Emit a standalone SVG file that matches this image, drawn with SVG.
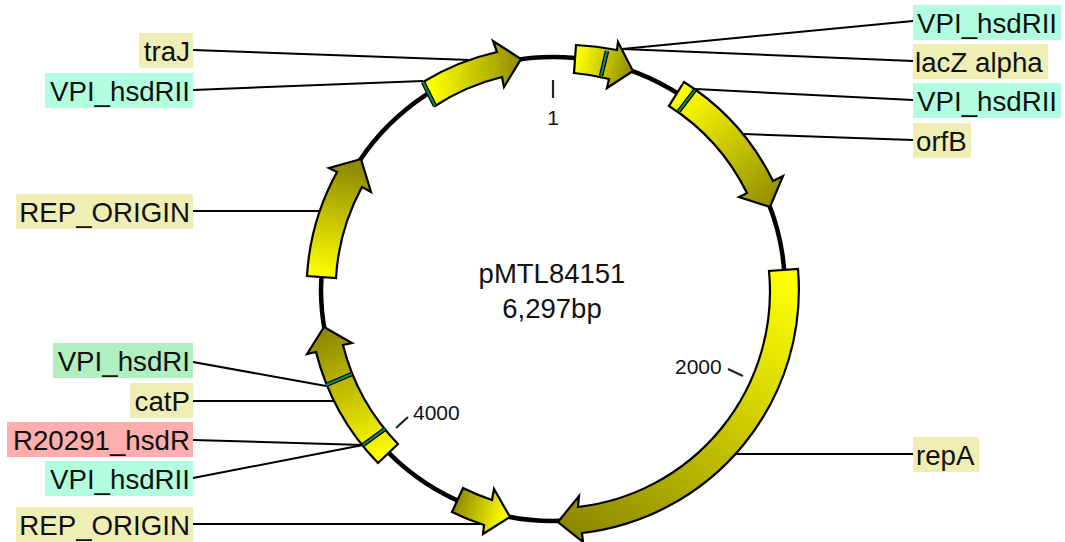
<svg xmlns="http://www.w3.org/2000/svg" width="1065" height="542" viewBox="0 0 1065 542">
<style>
text{font-family:"Liberation Sans",Arial,sans-serif;fill:#111}
.lb{font-size:27.7px}
.m{font-size:27.5px}
.s{font-size:21px}
.l{text-anchor:end}
.c{text-anchor:middle}
.k{fill:#efefb5}
.t{fill:#b2ffdf}
.g{fill:#b0f0c0}
.r{fill:#ffaeae}
.cn line{stroke:#000;stroke-width:2;fill:none}
.tick{stroke:#222;stroke-width:2.2;fill:none}
.gene{stroke:#000;stroke-width:2.2;stroke-linejoin:miter}
.so{stroke:#000;stroke-width:4.5;fill:none}
.si{stroke:#0f8a5c;stroke-width:2;fill:none}
</style>
<defs>
<linearGradient id="g1" gradientUnits="userSpaceOnUse" x1="430" y1="75" x2="525" y2="65"><stop offset="0" stop-color="#ffff00"/><stop offset="1" stop-color="#8c8800"/></linearGradient>
<linearGradient id="g2" gradientUnits="userSpaceOnUse" x1="578" y1="58" x2="633" y2="70"><stop offset="0" stop-color="#ffff00"/><stop offset="1" stop-color="#8c8800"/></linearGradient>
<linearGradient id="g3" gradientUnits="userSpaceOnUse" x1="680" y1="95" x2="775" y2="212"><stop offset="0" stop-color="#ffff00"/><stop offset="1" stop-color="#8c8800"/></linearGradient>
<linearGradient id="g4" gradientUnits="userSpaceOnUse" x1="780" y1="275" x2="590" y2="545"><stop offset="0" stop-color="#ffff00"/><stop offset="1" stop-color="#8c8800"/></linearGradient>
<linearGradient id="g5" gradientUnits="userSpaceOnUse" x1="505" y1="517" x2="455" y2="500"><stop offset="0" stop-color="#ffff00"/><stop offset="1" stop-color="#8c8800"/></linearGradient>
<linearGradient id="g6" gradientUnits="userSpaceOnUse" x1="385" y1="455" x2="330" y2="330"><stop offset="0" stop-color="#ffff00"/><stop offset="1" stop-color="#8c8800"/></linearGradient>
<linearGradient id="g7" gradientUnits="userSpaceOnUse" x1="320" y1="276" x2="345" y2="162"><stop offset="0" stop-color="#ffff00"/><stop offset="1" stop-color="#8c8800"/></linearGradient>
</defs>
<rect width="1065" height="542" fill="#fff"/>
<g id="backbone"><circle cx="553" cy="289" r="232" fill="none" stroke="#000" stroke-width="4.5"/></g>
<g id="connectors" class="cn">
<line x1="193" y1="50" x2="470" y2="60"/>
<line x1="193" y1="90" x2="423" y2="81"/>
<line x1="193" y1="211" x2="320" y2="211"/>
<line x1="193" y1="362" x2="326" y2="386"/>
<line x1="193" y1="401" x2="333" y2="401"/>
<line x1="193" y1="440" x2="363" y2="445"/>
<line x1="193" y1="478" x2="363" y2="445"/>
<line x1="193" y1="524" x2="487" y2="524"/>
<line x1="913" y1="21" x2="622" y2="49"/>
<line x1="913" y1="61" x2="622" y2="49"/>
<line x1="913" y1="100" x2="695" y2="89"/>
<line x1="913" y1="140" x2="744" y2="134"/>
<line x1="913" y1="454" x2="735" y2="454"/>
</g>
<g id="ticks">
<line class="tick" x1="553" y1="80" x2="553" y2="98"/>
<line class="tick" x1="728" y1="369" x2="743" y2="376"/>
<line class="tick" x1="408" y1="417" x2="396" y2="428"/>
<text class="s c" x="553" y="125">1</text>
<text class="s" x="675" y="374">2000</text>
<text class="s" x="413" y="420">4000</text>
</g>
<g id="gene-traJ">
<path class="gene" fill="url(#g1)" d="M423,82A244,244 0 0 1 497,52L493,41L521,59L504,87L502,77A218,218 0 0 0 435,106Z"/>
<line class="so" x1="423" y1="82" x2="435" y2="106"/><line class="si" x1="423" y1="82" x2="435" y2="106"/>
</g>
<g id="gene-lacZ">
<path class="gene" fill="url(#g2)" d="M576,45A245,245 0 0 1 617,50L618,42L633,71L607,88L609,79A218,218 0 0 0 574,73Z"/>
<line class="so" x1="607" y1="51" x2="601" y2="76"/><line class="si" x1="607" y1="51" x2="601" y2="76"/>
</g>
<g id="gene-orfB">
<path class="gene" fill="url(#g3)" d="M684,82A244,244 0 0 1 773,181L783,176L770,207L739,197L747,193A218,218 0 0 0 669,106Z"/>
<line class="so" x1="695" y1="90" x2="679" y2="111"/><line class="si" x1="695" y1="90" x2="679" y2="111"/>
</g>
<g id="gene-repA">
<path class="gene" fill="url(#g4)" d="M798,269A245,245 0 0 1 582,533L583,542L558,522L579,496L578,507A217,217 0 0 0 769,271Z"/>
</g>
<g id="gene-rep-bottom">
<path class="gene" fill="url(#g5)" d="M463,488A218,218 0 0 0 492,500L494,489L510,517L483,534L484,525A245,245 0 0 1 452,512Z"/>
</g>
<g id="gene-catP">
<path class="gene" fill="url(#g6)" d="M398,444A218,218 0 0 1 343,345L352,343L324,327L307,354L316,352A245,245 0 0 0 378,463Z"/>
<line class="so" x1="352" y1="374" x2="326" y2="385"/><line class="si" x1="352" y1="374" x2="326" y2="385"/>
<line class="so" x1="385" y1="429" x2="363" y2="445"/><line class="si" x1="385" y1="429" x2="363" y2="445"/>
</g>
<g id="gene-rep-top">
<path class="gene" fill="url(#g7)" d="M336,278A217,217 0 0 1 362,187L371,192L361,159L329,168L337,172A246,246 0 0 0 307,276Z"/>
</g>
<g id="center"><text class="m c" x="552" y="283">pMTL84151</text><text class="m c" x="552" y="318">6,297bp</text></g>
<g id="label-traJ"><rect class="k" x="139" y="33" width="54" height="35"/><text class="lb l" x="190" y="61">traJ</text></g>
<g id="label-vpi-l1"><rect class="t" x="45" y="73" width="148" height="35"/><text class="lb l" x="190" y="101">VPI_hsdRII</text></g>
<g id="label-rep-l1"><rect class="k" x="16" y="194" width="177" height="35"/><text class="lb l" x="190" y="222">REP_ORIGIN</text></g>
<g id="label-vpiRI"><rect class="g" x="53" y="343" width="140" height="35"/><text class="lb l" x="190" y="371">VPI_hsdRI</text></g>
<g id="label-catP"><rect class="k" x="130" y="383" width="63" height="35"/><text class="lb l" x="190" y="411">catP</text></g>
<g id="label-R20291"><rect class="r" x="7" y="422" width="186" height="35"/><text class="lb l" x="190" y="450">R20291_hsdR</text></g>
<g id="label-vpi-l2"><rect class="t" x="45" y="461" width="148" height="35"/><text class="lb l" x="190" y="489">VPI_hsdRII</text></g>
<g id="label-rep-l2"><rect class="k" x="16" y="507" width="177" height="35"/><text class="lb l" x="190" y="535">REP_ORIGIN</text></g>
<g id="label-vpi-r1"><rect class="t" x="913" y="5" width="148" height="35"/><text class="lb" x="917" y="33">VPI_hsdRII</text></g>
<g id="label-lacZ"><rect class="k" x="913" y="44" width="135" height="35"/><text class="lb" x="915" y="72">lacZ alpha</text></g>
<g id="label-vpi-r2"><rect class="t" x="913" y="83" width="148" height="35"/><text class="lb" x="917" y="111">VPI_hsdRII</text></g>
<g id="label-orfB"><rect class="k" x="913" y="123" width="58" height="35"/><text class="lb" x="916" y="151">orfB</text></g>
<g id="label-repA"><rect class="k" x="913" y="437" width="66" height="35"/><text class="lb" x="916" y="465">repA</text></g>
</svg>
